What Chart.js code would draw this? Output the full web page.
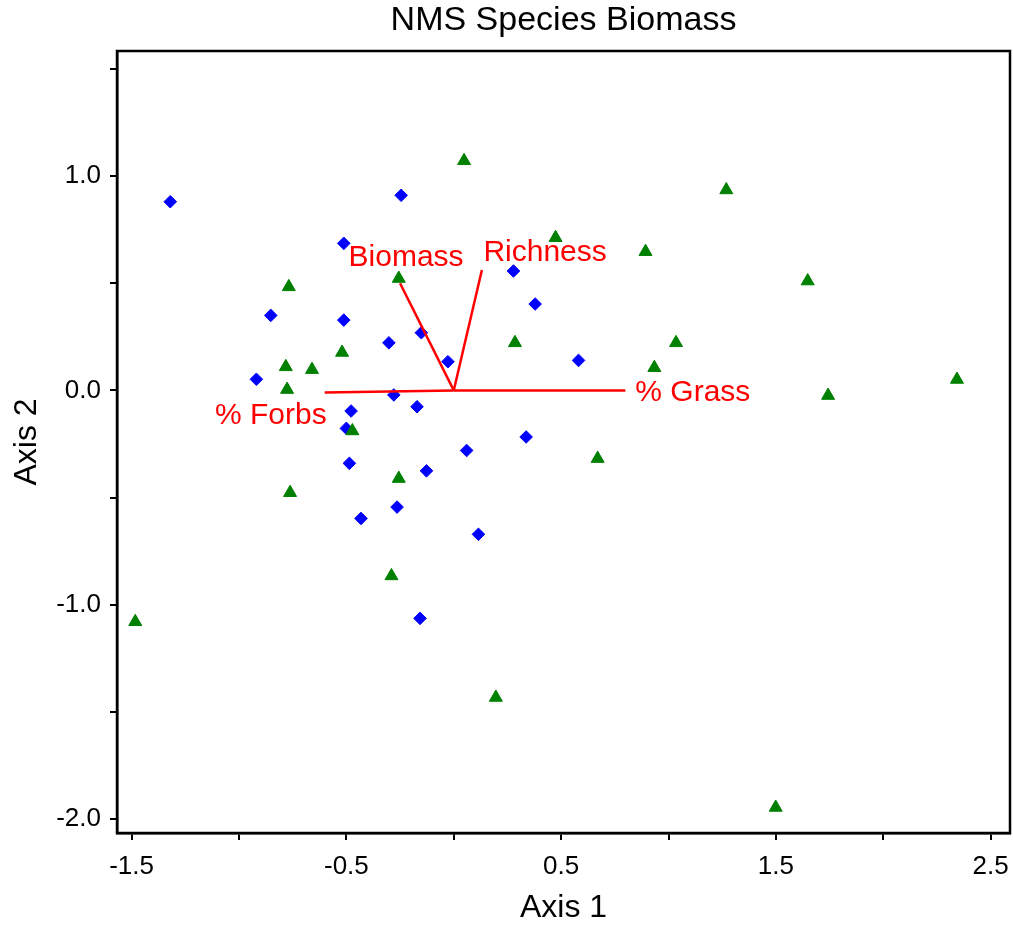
<!DOCTYPE html>
<html><head><meta charset="utf-8">
<script src="https://cdn.jsdelivr.net/npm/chart.js@4/dist/chart.umd.min.js"></script>
<style>html,body{margin:0;padding:0;background:#fff;}</style>
</head><body>
<canvas id="c" width="1013" height="930"></canvas>
<script>
// ---- data ----
const blueX = [-1.320, -0.245, -0.512, -0.852, -0.512, -0.151, -0.302, -0.027, -0.919, 0.278, 0.379, 0.581, -0.279, -0.171, -0.478, -0.500, -0.486, -0.127, 0.060, 0.337, -0.432, -0.264, 0.115, -0.157];
const blueY = [0.880, 0.910, 0.686, 0.350, 0.328, 0.269, 0.222, 0.134, 0.052, 0.557, 0.403, 0.140, -0.021, -0.076, -0.096, -0.177, -0.340, -0.375, -0.280, -0.217, -0.597, -0.544, -0.671, -1.063];
const greenX = [0.048, 1.269, 0.474, 0.893, 1.648, -0.256, -0.768, 0.285, 1.035, -0.520, -0.782, -0.660, 0.934, -0.776, 2.343, 1.743, -0.472, -0.256, 0.670, -0.762, -0.290, -1.483, 0.196, 1.499];
const greenY = [1.071, 0.935, 0.712, 0.647, 0.510, 0.522, 0.483, 0.222, 0.222, 0.177, 0.110, 0.097, 0.106, 0.004, 0.051, -0.024, -0.189, -0.411, -0.318, -0.477, -0.865, -1.079, -1.432, -1.945];
const vectorNames = ['% Grass', '% Forbs', 'Biomass', 'Richness'];
const vectorX = [0.799, -0.601, -0.250, 0.131];
const vectorY = [0.000, -0.010, 0.500, 0.562];
const xTicks = [-1.5, -1.0, -0.5, 0.0, 0.5, 1.0, 1.5, 2.0, 2.5];
const xTickLabels = ['-1.5', '', '-0.5', '', '0.5', '', '1.5', '', '2.5'];
const yTicks = [1.5, 1.0, 0.5, 0.0, -0.5, -1.0, -1.5, -2.0];
const yTickLabels = ['', '1.0', '', '0.0', '', '-1.0', '', '-2.0'];

// ---- label placement (pixel offsets from vector tips) ----
const labelPlacement = [
  {align: 'left', dx: 10, dy: 2},
  {align: 'right', dx: 2, dy: 23},
  {align: 'center', dx: 6, dy: -25},
  {align: 'left', dx: 1.5, dy: -17}
];

const FONT = "'Liberation Sans', Arial, sans-serif";
const pts = (xs, ys) => xs.map((x, i) => ({x: x, y: ys[i]}));

const datasets = [];
vectorNames.forEach((n, i) => {
  datasets.push({
    type: 'scatter', label: n, showLine: true,
    data: [{x: 0, y: 0}, {x: vectorX[i], y: vectorY[i]}],
    borderColor: '#ff0000', borderWidth: 2.5, pointRadius: 0, fill: false, order: 0
  });
});
datasets.push({label: 'Group 2', data: pts(greenX, greenY), pointStyle: 'triangle', pointRadius: 7.5,
  backgroundColor: '#008000', borderColor: '#008000', borderWidth: 1, order: 1});
datasets.push({label: 'Group 1', data: pts(blueX, blueY), pointStyle: 'rectRot', pointRadius: 6.3,
  backgroundColor: '#0000ff', borderColor: '#0000ff', borderWidth: 1, order: 2});

const framePlugin = {
  id: 'frame',
  afterDraw(chart) {
    const a = chart.chartArea, ctx = chart.ctx;
    ctx.save();
    ctx.strokeStyle = '#000';
    ctx.lineWidth = 2.5;
    ctx.strokeRect(a.left, a.top, a.right - a.left, a.bottom - a.top);
    ctx.restore();
  }
};
const vectorLabelPlugin = {
  id: 'vecLabels',
  afterDatasetsDraw(chart) {
    const ctx = chart.ctx, xs = chart.scales.x, ys = chart.scales.y;
    ctx.save();
    ctx.fillStyle = '#ff0000';
    ctx.font = "30px " + FONT;
    ctx.textBaseline = 'middle';
    vectorNames.forEach((n, i) => {
      const p = labelPlacement[i];
      ctx.textAlign = p.align;
      ctx.fillText(n, xs.getPixelForValue(vectorX[i]) + p.dx, ys.getPixelForValue(vectorY[i]) + p.dy);
    });
    ctx.restore();
  }
};

new Chart(document.getElementById('c'), {
  type: 'scatter',
  data: {datasets: datasets},
  plugins: [framePlugin, vectorLabelPlugin],
  options: {
    responsive: false, animation: false, events: [],
    layout: {autoPadding: false, padding: {top: 0, right: 3, bottom: 0, left: 0}},
    plugins: {
      legend: {display: false}, tooltip: {enabled: false},
      title: {display: true, text: 'NMS Species Biomass', fullSize: false, color: '#000',
        font: {family: FONT, size: 34, weight: 'normal'}, padding: {top: 0, bottom: 10.2}}
    },
    scales: {
      x: {
        type: 'linear', min: -1.568, max: 2.590,
        afterBuildTicks: s => { s.ticks = xTicks.map(v => ({value: v})); },
        afterFit: s => { s.height = 97; s.paddingLeft = 0; s.paddingRight = 0; },
        ticks: {autoSkip: false, maxRotation: 0, padding: 11, color: '#000',
          font: {family: FONT, size: 26}, callback: (v, i) => xTickLabels[i]},
        grid: {drawOnChartArea: false, drawTicks: true, tickLength: 7, color: '#000', lineWidth: 2},
        border: {display: true, color: '#000', width: 2.5},
        title: {display: true, text: 'Axis 1', color: '#000', font: {family: FONT, size: 32},
          padding: {top: 0, bottom: 3}}
      },
      y: {
        type: 'linear', min: -2.064, max: 1.583,
        afterBuildTicks: s => { s.ticks = yTicks.map(v => ({value: v})); },
        afterFit: s => { s.width = 117; s.paddingTop = 0; s.paddingBottom = 0; },
        ticks: {autoSkip: false, padding: 9, color: '#000',
          font: {family: FONT, size: 26}, callback: (v, i) => yTickLabels[i]},
        grid: {drawOnChartArea: false, drawTicks: true, tickLength: 7, color: '#000', lineWidth: 2},
        border: {display: true, color: '#000', width: 2.5},
        title: {display: true, text: 'Axis 2', color: '#000', font: {family: FONT, size: 32},
          padding: {top: 8, bottom: 0}}
      }
    }
  }
});
</script>
</body></html>
